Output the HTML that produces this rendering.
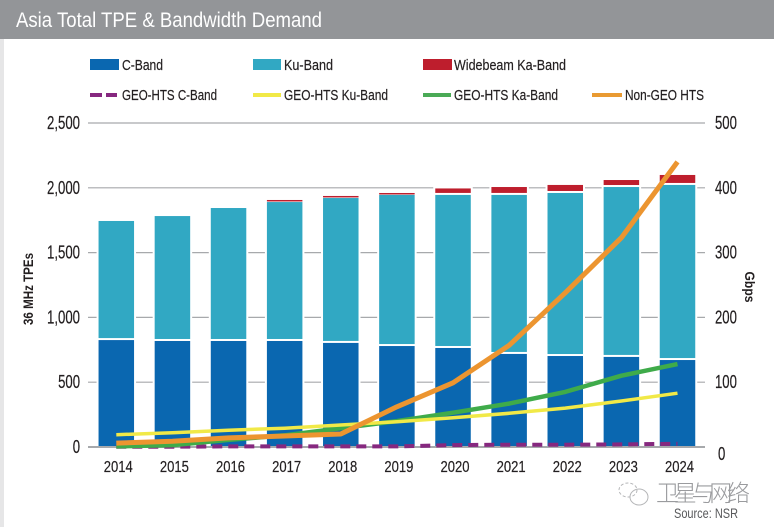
<!DOCTYPE html>
<html lang="en">
<head>
<meta charset="utf-8">
<title>Asia Total TPE &amp; Bandwidth Demand</title>
<style>
html,body{margin:0;padding:0;background:#fff}
body{width:774px;height:527px;overflow:hidden}
svg{display:block}
text{font-family:"Liberation Sans",sans-serif;fill:#231f20}
#legend text,#axes text{stroke:#231f20;stroke-width:.2}
</style>
</head>
<body>
<svg id="chart" width="774" height="527" viewBox="0 0 774 527" xmlns="http://www.w3.org/2000/svg">
  <rect x="0" y="39" width="4" height="488" fill="#e6e6e7"/>
  <rect x="0" y="0" width="774" height="39" fill="#939598"/>
  <text x="16" y="27" font-size="21" style="fill:#fff" textLength="306" lengthAdjust="spacingAndGlyphs">Asia Total TPE &amp; Bandwidth Demand</text>

  <g id="legend" font-size="14.5">
    <rect x="90" y="59" width="29" height="11" fill="#0a67b0"/>
    <text x="122" y="70" textLength="41" lengthAdjust="spacingAndGlyphs">C-Band</text>
    <rect x="253" y="59" width="28" height="11" fill="#31a8c3"/>
    <text x="284" y="70" textLength="49" lengthAdjust="spacingAndGlyphs">Ku-Band</text>
    <rect x="423" y="59" width="29" height="11" fill="#be1e2d"/>
    <text x="454" y="70" textLength="112" lengthAdjust="spacingAndGlyphs">Widebeam Ka-Band</text>
    <line x1="90" y1="95" x2="117" y2="95" stroke="#86287f" stroke-width="4" stroke-dasharray="12 4"/>
    <text x="122" y="100" textLength="95" lengthAdjust="spacingAndGlyphs">GEO-HTS C-Band</text>
    <line x1="253" y1="95" x2="281" y2="95" stroke="#f1e947" stroke-width="4"/>
    <text x="284" y="100" textLength="104" lengthAdjust="spacingAndGlyphs">GEO-HTS Ku-Band</text>
    <line x1="423" y1="95" x2="451" y2="95" stroke="#4aaa56" stroke-width="4"/>
    <text x="454" y="100" textLength="104" lengthAdjust="spacingAndGlyphs">GEO-HTS Ka-Band</text>
    <line x1="592" y1="95" x2="622" y2="95" stroke="#e99a32" stroke-width="4"/>
    <text x="625" y="100" textLength="79" lengthAdjust="spacingAndGlyphs">Non-GEO HTS</text>
  </g>

  <g id="grid"></g>
  <g id="bars"></g>
  <g id="lines"></g>
  <g id="axes"></g>

  <text transform="translate(33,289) rotate(-90)" text-anchor="middle" font-size="14" font-weight="bold" textLength="72" lengthAdjust="spacingAndGlyphs">36 MHz TPEs</text>
  <text transform="translate(745,287) rotate(90)" text-anchor="middle" font-size="14" font-weight="bold" textLength="31" lengthAdjust="spacingAndGlyphs">Gbps</text>

  <g fill="none" stroke="#b5b6b8" stroke-width="1">
    <ellipse cx="628" cy="490" rx="9" ry="7" stroke-dasharray="3 2"/>
    <ellipse cx="639" cy="497" rx="9" ry="8"/>
  </g>
  <text x="656" y="501" font-size="23" textLength="94" lengthAdjust="spacing" style="fill:#9a9b9e;font-family:'Liberation Sans','Noto Sans CJK SC',sans-serif;font-weight:300">卫星与网络</text>
  <text x="674" y="518" font-size="14" style="fill:#58595b" textLength="64" lengthAdjust="spacingAndGlyphs">Source: NSR</text>
</svg>

<script>
const years = [2014, 2015, 2016, 2017, 2018, 2019, 2020, 2021, 2022, 2023, 2024];
const cBand = [825, 818, 818, 818, 803, 779, 764, 718, 702, 695, 671];
const kuBand = [919, 964, 1026, 1072, 1118, 1166, 1181, 1227, 1258, 1311, 1351];
const widebeamKa = [0, 0, 0, 16, 16, 15, 50, 61, 62, 54, 77];
const geoHtsC = [0.5, 0.5, 1, 1, 1, 1, 3, 3.5, 3.5, 4, 5];
const geoHtsKu = [19, 22, 26, 29, 34, 39, 45, 52, 60, 71, 83];
const geoHtsKa = [1, 3, 11, 18, 29, 40, 53, 67, 85, 110, 128];
const nonGeoHts = [6, 9, 14, 17, 20, 62, 99, 157, 238, 323, 440];
const leftTicks = [0, 500, 1000, 1500, 2000, 2500];
const rightTicks = [0, 100, 200, 300, 400, 500];

const NS = 'http://www.w3.org/2000/svg';
const yZero = 447;
const yTop = 123;
const xFirst = 116.3;
const xStep = 56.12;
const barWidth = 35.5;
const charWidth = 7.3;
const yLeft = function (v) { return yZero - (v / 2500) * (yZero - yTop); };
const yRight = function (v) { return yZero - (v / 500) * (yZero - yTop); };
const xPos = function (i) { return xFirst + i * xStep; };

function make(tag, attrs, parent) {
  const el = document.createElementNS(NS, tag);
  Object.keys(attrs).forEach(function (k) { el.setAttribute(k, attrs[k]); });
  parent.appendChild(el);
  return el;
}

const grid = document.getElementById('grid');
const bars = document.getElementById('bars');
const lines = document.getElementById('lines');
const axes = document.getElementById('axes');

leftTicks.forEach(function (t) {
  const g = make('line', {x1: 88, x2: 705, y1: yLeft(t), y2: yLeft(t), stroke: '#a7a9ac', 'stroke-width': t === 0 ? 2 : 1.2}, grid);
  
  
  const text = t.toLocaleString('en-US');
  const label = make('text', {x: 80, y: yLeft(t) + 6, 'text-anchor': 'end', 'font-size': 18, textLength: text.length * charWidth - (t >= 1000 ? 3.5 : 0), lengthAdjust: 'spacingAndGlyphs'}, axes);
  
  
  label.textContent = text;
});

rightTicks.forEach(function (t) {
  const text = String(t);
  const label = make('text', {x: t === 0 ? 718 : 715, y: yRight(t) + (t === 0 ? 13 : 6), 'font-size': 18, textLength: text.length * charWidth, lengthAdjust: 'spacingAndGlyphs'}, axes);
  
  
  label.textContent = text;
});

years.forEach(function (year, i) {
  const x = xPos(i) - barWidth / 2;
  const c = cBand[i];
  const ku = kuBand[i];
  const w = widebeamKa[i];
  const halo = make('rect', {x: x - 2, y: yLeft(c + ku + w) - 2, width: barWidth + 4, height: yZero - 1 - yLeft(c + ku + w) + 2, fill: '#fff'}, bars);
  
  
  const cRect = make('rect', {x: x, y: yLeft(c), width: barWidth, height: yZero - 1 - yLeft(c), fill: '#0a67b0'}, bars);
  
  
  const kuRect = make('rect', {x: x, y: yLeft(c + ku), width: barWidth, height: yLeft(c) - yLeft(c + ku) - 2, fill: '#31a8c3'}, bars);
  
  
  if (w > 0) {
    const wRect = make('rect', {x: x, y: yLeft(c + ku + w), width: barWidth, height: Math.max(yLeft(c + ku) - yLeft(c + ku + w) - 2, 1.5), fill: '#be1e2d'}, bars);
    
    
  }
  const label = make('text', {x: xPos(i) + 2, y: 472, 'text-anchor': 'middle', 'font-size': 15.5, textLength: 29, lengthAdjust: 'spacingAndGlyphs'}, axes);
  
  
  label.textContent = year;
});

function pointsFor(values) {
  return values.map(function (v, i) { return xPos(i) + ',' + yRight(v).toFixed(1); }).join(' ');
}

const lineC = make('polyline', {points: pointsFor(geoHtsC), fill: 'none', stroke: '#86287f', 'stroke-width': 4, 'stroke-dasharray': '10 6'}, lines);


const lineKa = make('polyline', {points: pointsFor(geoHtsKa), fill: 'none', stroke: '#3fab4a', 'stroke-width': 4.5, 'stroke-linejoin': 'round'}, lines);


const lineKu = make('polyline', {points: pointsFor(geoHtsKu), fill: 'none', stroke: '#f1e947', 'stroke-width': 3.5, 'stroke-linejoin': 'round'}, lines);


const lineNon = make('polyline', {points: pointsFor(nonGeoHts), fill: 'none', stroke: '#ec9530', 'stroke-width': 5, 'stroke-linejoin': 'round'}, lines);


</script>
</body>
</html>
